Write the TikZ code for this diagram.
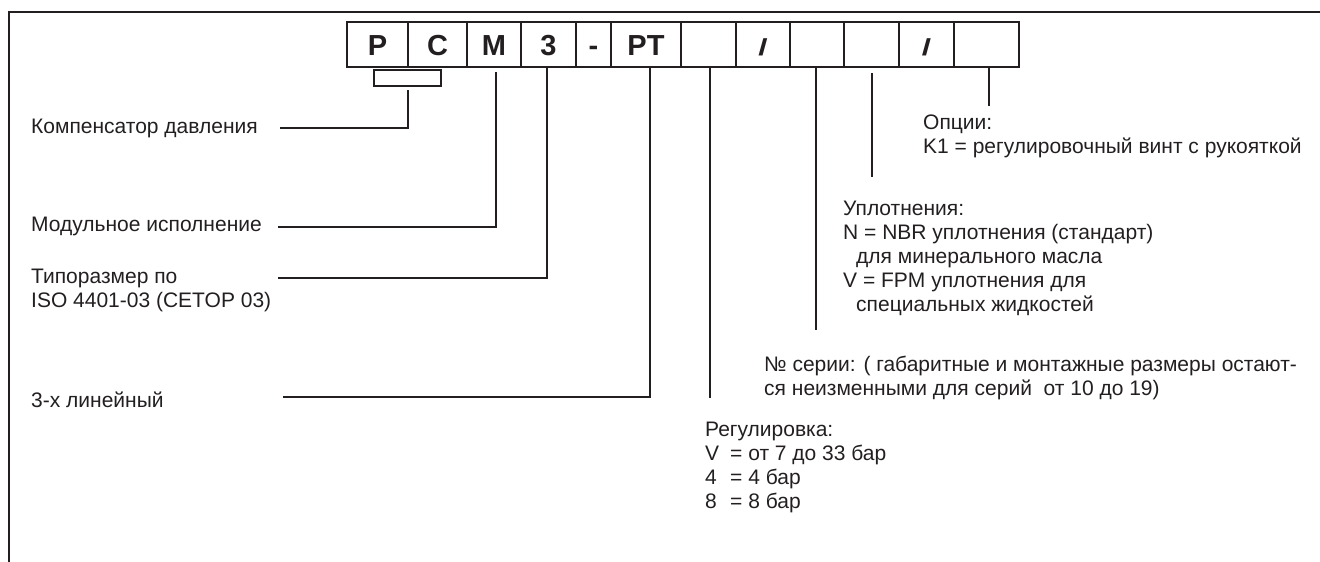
\documentclass[tikz,border=0pt]{standalone}
\usepackage{graphicx}
\usepackage{fontspec}
\setmainfont{Liberation Sans}
\definecolor{ink}{HTML}{231F20}
\begin{document}
\begin{tikzpicture}[x=1pt,y=-1pt]
\tikzset{
  cell/.style={draw=ink, line width=2pt, minimum height=45pt, inner sep=0pt,
    text height=21pt, text depth=0pt,
    font=\fontsize{29}{32}\selectfont\bfseries, text=ink},
  lbl/.style={inner sep=0pt, font=\fontsize{21}{24}\selectfont, text=ink, align=left},
  conn/.style={draw=ink, line width=2pt},
  frame/.style={draw=ink, line width=2.3pt}
}
\newcommand{\slashmark}{\scalebox{1.15}[0.8]{/}}
\useasboundingbox (0,0) rectangle (1320,562);
\draw[frame] (1321,12) -- (9,12) -- (9,563);

% code cells
\node[cell, minimum width=61pt] (c1)  at (377.5,44.5) {P};
\node[cell, minimum width=59pt] (c2)  at (437.5,44.5) {C};
\node[cell, minimum width=54pt] (c3)  at (494,44.5)   {M};
\node[cell, minimum width=55pt] (c4)  at (548.5,44.5) {3};
\node[cell, minimum width=35pt] (c5)  at (593.5,44.5) {-};
\node[cell, minimum width=70pt] (c6)  at (646,44.5)   {PT};
\node[cell, minimum width=55pt] (c7)  at (708.5,44.5) {};
\node[cell, minimum width=54pt] (c8)  at (763,44.5)   {\slashmark};
\node[cell, minimum width=54pt] (c9)  at (817,44.5)   {};
\node[cell, minimum width=55pt] (c10) at (871.5,44.5) {};
\node[cell, minimum width=55pt] (c11) at (926.5,44.5) {\slashmark};
\node[cell, minimum width=65pt] (c12) at (986.5,44.5) {};
\node[draw=ink, line width=2pt, minimum width=67pt, minimum height=16pt, inner sep=0pt] (brk) at (407.5,78) {};

% labels
\node[lbl, anchor=west] (komp) at (31,128) {Компенсатор давления};
\node[lbl, anchor=west] (modul) at (31,226) {Модульное исполнение};
\node[lbl, anchor=north west] (tipo) at (31,269) {Типоразмер по\\ISO 4401-03 (CETOP 03)};
\node[lbl, anchor=west] (lin) at (31,400) {3-х линейный};
\node[lbl, anchor=north west] (opt) at (923,115) {Опции:\\K1 = регулировочный винт с рукояткой};
\node[lbl, anchor=north west] (upl) at (843,201) {Уплотнения:\\N = NBR уплотнения (стандарт)\\\hspace*{13pt}для минерального масла\\V = FPM уплотнения для\\\hspace*{13pt}специальных жидкостей};
\node[lbl, anchor=north west] (ser) at (764,356) {№ серии: ( габаритные и монтажные размеры остают-\\ся неизменными для серий \ от 10 до 19)};
\node[lbl, anchor=north west] (reg) at (705,422) {Регулировка:\\\makebox[25pt][l]{V}= от 7 до 33 бар\\\makebox[25pt][l]{4}= 4 бар\\\makebox[25pt][l]{8}= 8 бар};

% free ends
\coordinate (kend) at (280,128);
\coordinate (mend) at (278,227);
\coordinate (tend) at (278,278);
\coordinate (lend) at (283,397);
\coordinate (e7)  at (710,398);
\coordinate (e9)  at (816,330);
\coordinate (e10) at (872,177);
\coordinate (e12) at (989,106);

% connectors
\draw[conn] ([yshift=-3pt]brk.south) |- (kend);
\draw[conn] ([xshift=2pt,yshift=-4pt]c3.south) |- (mend);
\draw[conn] ([xshift=-1.5pt]c4.south) |- (tend);
\draw[conn] ([xshift=4pt]c6.south) |- (lend);
\draw[conn] ([xshift=1.5pt]c7.south) -- (e7);
\draw[conn] ([xshift=-1pt]c9.south) -- (e9);
\draw[conn] ([xshift=0.5pt,yshift=-5pt]c10.south) -- (e10);
\draw[conn] ([xshift=2.5pt]c12.south) -- (e12);
\end{tikzpicture}
\end{document}
